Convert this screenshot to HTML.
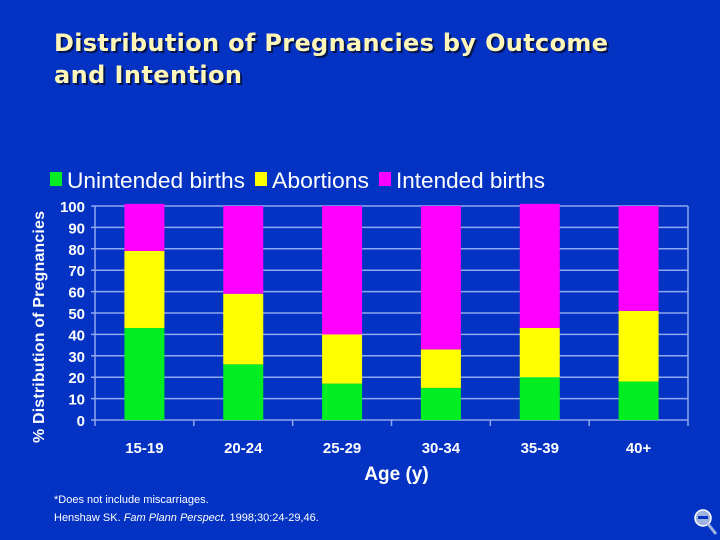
<!DOCTYPE html>
<html><head><meta charset="utf-8"><style>
body{margin:0;width:720px;height:540px;background:#0433c4;overflow:hidden;font-family:"Liberation Sans",sans-serif}
svg{position:absolute;left:0;top:0}
</style></head><body>
<svg id="c" width="720" height="540">
<text x="56" y="53" font-size="24" font-weight="bold" fill="#000" opacity="0.6" textLength="554" font-family="DejaVu Sans">Distribution of Pregnancies by Outcome</text>
<text x="54" y="51" font-size="24" font-weight="bold" fill="#fff6b8" textLength="554" font-family="DejaVu Sans">Distribution of Pregnancies by Outcome</text>
<text x="56" y="85" font-size="24" font-weight="bold" fill="#000" opacity="0.6" textLength="188" font-family="DejaVu Sans">and Intention</text>
<text x="54" y="83" font-size="24" font-weight="bold" fill="#fff6b8" textLength="188" font-family="DejaVu Sans">and Intention</text>
<g id="plot"></g>
<text x="54" y="503" font-size="11" fill="#fff">*Does not include miscarriages.</text>
<text x="54" y="521" font-size="11" fill="#fff">Henshaw SK. <tspan font-style="italic">Fam Plann Perspect.</tspan> 1998;30:24-29,46.</text>
<g><circle cx="703" cy="518" r="8" fill="#9fb3e0" stroke="#fff" stroke-width="1.5"/><rect x="698" y="516" width="10" height="3" fill="#0433c4"/><line x1="708" y1="524" x2="716" y2="534" stroke="#9fb3e0" stroke-width="3"/></g>
</svg>
<script>
const categories=["15-19","20-24","25-29","30-34","35-39","40+"];
const unintended=[43,26,17,15,20,18];
const abortions=[36,33,23,18,23,33];
const intended=[22,41,60,67,58,49];
const yTicks=[0,10,20,30,40,50,60,70,80,90,100];
const seriesNames=["Unintended births","Abortions","Intended births"];
const colors=["#00ee22","#ffff00","#ff00ff"];
const legendWidths=[178,97,149];
const NS="http://www.w3.org/2000/svg";
const g=document.getElementById('plot');
const L=95,R=688,T=206,B=420;
const y=v=>B-(v/100)*(B-T);
const cw=(R-L)/categories.length;
const x=i=>L+cw*(i+0.5);
function mk(t,a){const e=document.createElementNS(NS,t);for(const k in a)e.setAttribute(k,a[k]);g.appendChild(e);return e;}
yTicks.forEach(v=>{
 const l=mk('line',{x1:L-4,x2:R,y1:y(v),y2:y(v),stroke:'#8fa8ee','stroke-width':1.5});
 
 
 const t=mk('text',{x:L-10,y:y(v)+6,'text-anchor':'end','font-size':15,'font-weight':'bold',fill:'#fff'});
 t.textContent=v;
 
 
});
const ax=mk('line',{x1:L,x2:L,y1:T,y2:B,stroke:'#8fa8ee','stroke-width':1.5});


const rx=mk('line',{x1:R,x2:R,y1:T,y2:B,stroke:'#8fa8ee','stroke-width':1.5});


for(let i=0;i<=categories.length;i++){
 const tk=mk('line',{x1:L+cw*i,x2:L+cw*i,y1:B,y2:B+6,stroke:'#8fa8ee','stroke-width':1.5});
 
 
}
const series=[unintended,abortions,intended];
categories.forEach((c,i)=>{
 let base=0;
 series.forEach((s,k)=>{
  const r=mk('rect',{x:x(i)-20,width:40,y:y(base+s[i]),height:y(base)-y(base+s[i]),fill:colors[k]});
  
  
  base+=s[i];
 });
 const t=mk('text',{x:x(i),y:B+33,'text-anchor':'middle','font-size':15,'font-weight':'bold',fill:'#fff'});
 t.textContent=c;
 
 
});
const xt=mk('text',{x:(L+R)/2+5,y:B+60,'text-anchor':'middle','font-size':19,'font-weight':'bold',fill:'#fff'});
xt.textContent='Age (y)';


const yt=mk('text',{transform:'translate(44,'+((T+B)/2+14)+') rotate(-90)','text-anchor':'middle','font-size':16,'font-weight':'bold',fill:'#fff',textLength:232});
yt.textContent='% Distribution of Pregnancies';


let lx=50;
seriesNames.forEach((n,k)=>{
 const r=mk('rect',{x:lx,y:172,width:12,height:14,fill:colors[k]});
 
 
 const t=mk('text',{x:lx+17,y:188,'font-size':22,fill:'#fff',textLength:legendWidths[k],lengthAdjust:'spacingAndGlyphs'});
 t.textContent=n;
 
 
 lx+=17+legendWidths[k]+10;
});
</script>
</body></html>
